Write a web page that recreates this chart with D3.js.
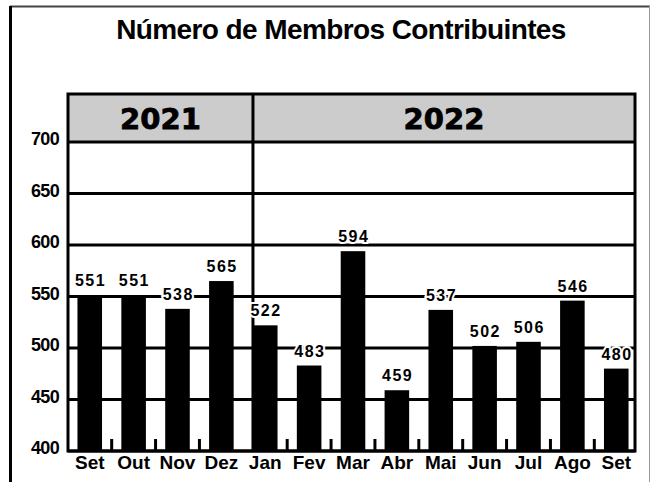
<!DOCTYPE html>
<html>
<head>
<meta charset="UTF-8">
<title>Número de Membros Contribuintes</title>
<style>
body { margin: 0; background: #fff; }
text { font-family: "Liberation Sans", Arial, sans-serif; font-weight: bold; }
</style>
</head>
<body>
<script src="https://cdn.jsdelivr.net/npm/d3@7"></script>
<script>
// data
var months = ["Set", "Out", "Nov", "Dez", "Jan", "Fev", "Mar", "Abr", "Mai", "Jun", "Jul", "Ago", "Set"];
var monthYear = ["2021", "2021", "2021", "2021", "2022", "2022", "2022", "2022", "2022", "2022", "2022", "2022", "2022"];
var members = [551, 551, 538, 565, 522, 483, 594, 459, 537, 502, 506, 546, 480];
var yearLabels = ["2021", "2022"];
var yTicks = [400, 450, 500, 550, 600, 650, 700];
var title = "Número de Membros Contribuintes";

var width = 651, height = 482;
var plot = {left: 68, right: 635, top: 94};

var svg = d3.select("body").append("svg")
  .attr("width", width)
  .attr("height", height);

var idx = d3.range(months.length);
var x = d3.scaleBand()
  .domain(idx)
  .range([70, 636])
  .paddingInner(0.44)
  .paddingOuter(0.17);
var y = d3.scaleLinear()
  .domain([400, 700])
  .range([451, 142]);

// outer frame
svg.append("line").attr("x1", 10).attr("x2", 650).attr("y1", 6.5).attr("y2", 6.5)
  .attr("stroke", "#444").attr("stroke-width", 2);
svg.append("line").attr("x1", 10.5).attr("x2", 10.5).attr("y1", 6).attr("y2", height)
  .attr("stroke", "#000").attr("stroke-width", 3);
svg.append("line").attr("x1", 649.5).attr("x2", 649.5).attr("y1", 6).attr("y2", height)
  .attr("stroke", "#999").attr("stroke-width", 1);

// title
svg.append("text")
  .attr("x", 341).attr("y", 39)
  .attr("text-anchor", "middle")
  .attr("font-size", 28)
  .attr("letter-spacing", "-0.6px")
  .text(title);

// year header band
svg.append("rect")
  .attr("x", plot.left).attr("y", plot.top)
  .attr("width", plot.right - plot.left).attr("height", y(700) - plot.top)
  .attr("fill", "#cccccc");

// bars
svg.selectAll("rect.bar")
  .data(idx)
  .enter().append("rect")
  .attr("class", "bar")
  .attr("x", function(i) { return x(i); })
  .attr("width", x.bandwidth())
  .attr("y", function(i) { return y(members[i]); })
  .attr("height", function(i) { return y(400) - y(members[i]); })
  .attr("fill", "#000");

// gridlines
svg.selectAll("line.grid")
  .data(yTicks)
  .enter().append("line")
  .attr("class", "grid")
  .attr("x1", plot.left).attr("x2", plot.right)
  .attr("y1", function(d) { return y(d); })
  .attr("y2", function(d) { return y(d); })
  .attr("stroke", "#000").attr("stroke-width", 3);

// frame of the plot
svg.append("rect")
  .attr("x", plot.left).attr("y", plot.top)
  .attr("width", plot.right - plot.left).attr("height", y(400) - plot.top)
  .attr("fill", "none").attr("stroke", "#000").attr("stroke-width", 3);

// year divider and year labels
var firstIdx = yearLabels.map(function(yr) { return monthYear.indexOf(yr); });
var divX = x(firstIdx[1]);
svg.append("line")
  .attr("x1", divX).attr("x2", divX)
  .attr("y1", plot.top).attr("y2", y(400))
  .attr("stroke", "#000").attr("stroke-width", 3);
var bounds = [plot.left, divX, plot.right];
svg.selectAll("text.year")
  .data(yearLabels)
  .enter().append("text")
  .attr("class", "year")
  .attr("x", function(d, k) { return (bounds[k] + bounds[k + 1]) / 2; })
  .attr("y", 129)
  .attr("text-anchor", "middle")
  .attr("font-size", 29)
  .attr("stroke", "#000").attr("stroke-width", 0.8)
  .style("font-family", "'DejaVu Sans', sans-serif")
  .text(function(d) { return d; });

// y tick labels
svg.selectAll("text.ytick")
  .data(yTicks)
  .enter().append("text")
  .attr("class", "ytick")
  .attr("x", 59)
  .attr("y", function(d) { return y(d) + 3; })
  .attr("text-anchor", "end")
  .attr("font-size", 18)
  .attr("letter-spacing", "-0.7px")
  .text(function(d) { return d; });

// small x ticks between months
var step = x.step();
var tickIdx = idx.slice(1).filter(function(i) { return i !== firstIdx[1]; });
svg.selectAll("line.xtick")
  .data(tickIdx)
  .enter().append("line")
  .attr("class", "xtick")
  .attr("x1", function(i) { return x(i) - step * x.paddingInner() / 2; })
  .attr("x2", function(i) { return x(i) - step * x.paddingInner() / 2; })
  .attr("y1", y(400) - 12).attr("y2", y(400))
  .attr("stroke", "#000").attr("stroke-width", 3);

// month labels
svg.selectAll("text.month")
  .data(idx)
  .enter().append("text")
  .attr("class", "month")
  .attr("x", function(i) { return x(i) + x.bandwidth() / 2; })
  .attr("y", 469)
  .attr("text-anchor", "middle")
  .attr("font-size", 19)
  .text(function(i) { return months[i]; });

// value labels (white halo keeps them readable over gridlines)
svg.selectAll("text.value")
  .data(idx)
  .enter().append("text")
  .attr("class", "value")
  .attr("x", function(i) { return x(i) + x.bandwidth() / 2 + 0.75; })
  .attr("y", function(i) { return y(members[i]) - 9; })
  .attr("text-anchor", "middle")
  .attr("font-size", 16)
  .attr("letter-spacing", "1.5px")
  .attr("stroke", "#fff").attr("stroke-width", 4)
  .attr("paint-order", "stroke")
  .text(function(i) { return members[i]; });
</script>
</body>
</html>
